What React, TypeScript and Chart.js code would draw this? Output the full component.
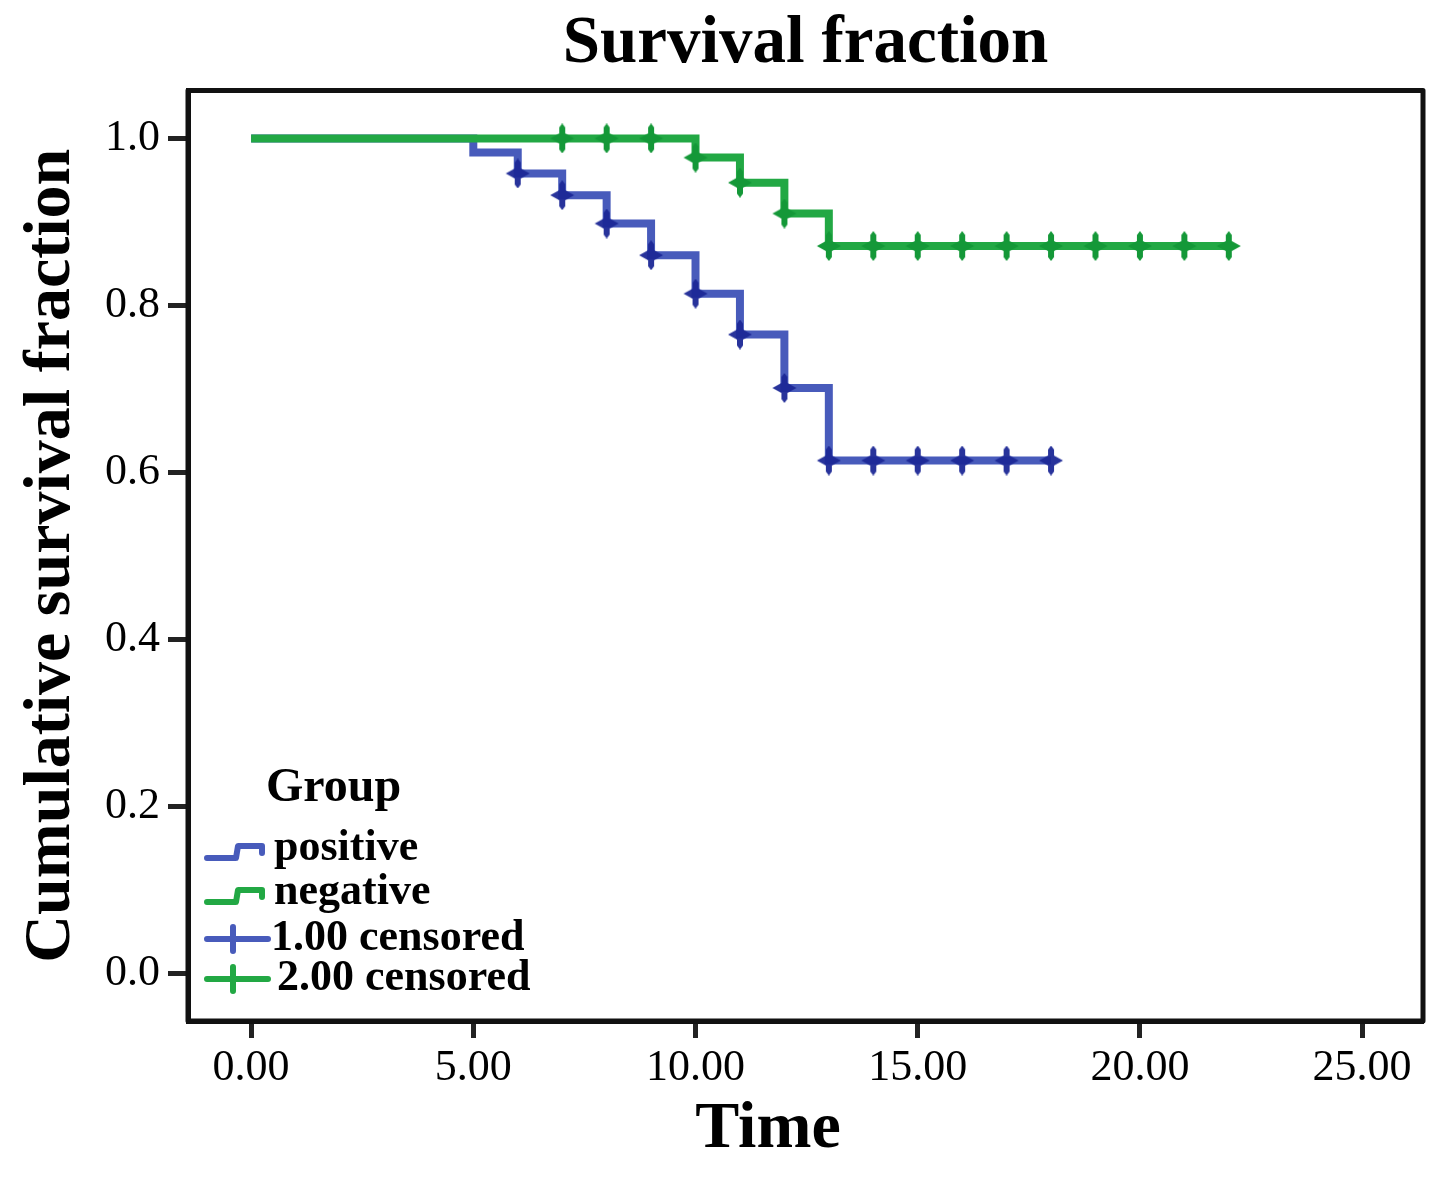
import { useEffect, useRef } from "react"
import { Chart, registerables } from "chart.js"

Chart.register(...registerables)

const positiveTimes = [0, 5, 6, 7, 8, 9, 10, 11, 12, 13, 18]
const positiveSurvival = [1.0, 0.983, 0.958, 0.932, 0.898, 0.86, 0.814, 0.765, 0.701, 0.614, 0.614]
const negativeTimes = [0, 10, 11, 12, 13, 22]
const negativeSurvival = [1.0, 0.977, 0.947, 0.91, 0.871, 0.871]

const positiveCensorTimes = [6, 7, 8, 9, 10, 11, 12, 13, 14, 15, 16, 17, 18]
const positiveCensorSurvival = [0.958, 0.932, 0.898, 0.86, 0.814, 0.765, 0.701, 0.614, 0.614, 0.614, 0.614, 0.614, 0.614]
const negativeCensorTimes = [7, 8, 9, 10, 11, 12, 13, 14, 15, 16, 17, 18, 19, 20, 21, 22]
const negativeCensorSurvival = [1.0, 1.0, 1.0, 0.977, 0.947, 0.91, 0.871, 0.871, 0.871, 0.871, 0.871, 0.871, 0.871, 0.871, 0.871, 0.871]

const legendTitle = "Group"
const legendLabels = ["positive", "negative", "1.00 censored", "2.00 censored"]

const BLUE = "rgba(40, 62, 175, 0.85)"
const BLUE_MARK = "rgba(28, 40, 150, 0.95)"
const GREEN = "rgb(34, 168, 68)"
const GREEN_MARK = "rgb(20, 152, 56)"
const SERIF = "'Liberation Serif', 'Times New Roman', serif"

const toPoints = (xs: number[], ys: number[]) => xs.map((x, i) => ({ x, y: ys[i] }))

// censor mark: vertical tick with a small diamond, like the SPSS plot
function makeMarker(color: string) {
  const c = document.createElement("canvas")
  c.width = 26
  c.height = 30
  const g = c.getContext("2d")!
  g.fillStyle = color
  g.beginPath()
  g.moveTo(13, 0)
  g.lineTo(16, 4)
  g.lineTo(16, 10)
  g.lineTo(25, 15)
  g.lineTo(16, 20)
  g.lineTo(16, 26)
  g.lineTo(13, 30)
  g.lineTo(10, 26)
  g.lineTo(10, 20)
  g.lineTo(1, 15)
  g.lineTo(10, 10)
  g.lineTo(10, 4)
  g.closePath()
  g.fill()
  return c
}

const framePlugin = {
  id: "frameAndLegend",
  afterDraw(chart: Chart) {
    const { ctx, chartArea } = chart
    ctx.save()
    ctx.strokeStyle = "#111"
    ctx.lineWidth = 5
    ctx.lineJoin = "round"
    ctx.strokeRect(chartArea.left, chartArea.top, chartArea.right - chartArea.left, chartArea.bottom - chartArea.top)

    // x axis title
    ctx.fillStyle = "#000"
    ctx.textBaseline = "middle"
    ctx.textAlign = "center"
    ctx.font = `bold 66px ${SERIF}`
    ctx.fillText("Time", 768, 1130)

    // legend
    ctx.textAlign = "left"
    ctx.font = `bold 48px ${SERIF}`
    ctx.fillText(legendTitle, 266, 789)

    ctx.font = `bold 44px ${SERIF}`
    const rows = [849, 893, 939, 979]
    const textX = [274, 274, 271, 277]
    const colors = [BLUE, GREEN, BLUE, GREEN]
    ctx.lineCap = "round"
    ctx.lineJoin = "round"
    legendLabels.forEach((label, i) => {
      const y = rows[i]
      ctx.strokeStyle = colors[i]
      ctx.lineWidth = 6
      ctx.beginPath()
      if (i < 2) {
        ctx.moveTo(207, y + 9)
        ctx.lineTo(236, y + 9)
        ctx.lineTo(238, y - 3)
        ctx.lineTo(262, y - 3)
        ctx.lineTo(262, y + 4)
      } else {
        ctx.moveTo(207, y)
        ctx.lineTo(268, y)
        ctx.moveTo(233, y - 12)
        ctx.lineTo(233, y + 12)
      }
      ctx.stroke()
      ctx.fillStyle = "#000"
      ctx.fillText(label, textX[i], y)
    })
    ctx.restore()
  },
}

export default function App() {
  const chartRef = useRef<HTMLCanvasElement>(null)
  const chartInstance = useRef<Chart | null>(null)

  useEffect(() => {
    if (!chartRef.current) return
    if (chartInstance.current) chartInstance.current.destroy()

    const ctx = chartRef.current.getContext("2d")
    if (!ctx) return

    const blueMark = makeMarker(BLUE_MARK)
    const greenMark = makeMarker(GREEN_MARK)

    chartInstance.current = new Chart(ctx, {
      type: "scatter",
      data: {
        datasets: [
          {
            label: "negative censored",
            data: toPoints(negativeCensorTimes, negativeCensorSurvival),
            pointStyle: greenMark,
            pointRadius: 12,
            borderColor: GREEN_MARK,
            backgroundColor: GREEN_MARK,
            order: 0,
          },
          {
            label: "negative",
            data: toPoints(negativeTimes, negativeSurvival),
            showLine: true,
            stepped: "before",
            borderColor: GREEN,
            borderWidth: 8,
            pointRadius: 0,
            order: 1,
          },
          {
            label: "positive censored",
            data: toPoints(positiveCensorTimes, positiveCensorSurvival),
            pointStyle: blueMark,
            pointRadius: 12,
            borderColor: BLUE_MARK,
            backgroundColor: BLUE_MARK,
            order: 2,
          },
          {
            label: "positive",
            data: toPoints(positiveTimes, positiveSurvival),
            showLine: true,
            stepped: "before",
            borderColor: BLUE,
            borderWidth: 8,
            pointRadius: 0,
            order: 3,
          },
        ],
      },
      options: {
        animation: false,
        responsive: true,
        maintainAspectRatio: false,
        layout: { padding: { top: 0, right: 18, bottom: 0, left: 0 } },
        plugins: {
          legend: { display: false },
          tooltip: { enabled: false },
          title: {
            display: true,
            text: "Survival fraction",
            fullSize: false,
            color: "#000",
            font: { family: SERIF, size: 67, weight: "bold", lineHeight: 1.2 },
            padding: { top: 4, bottom: 6 },
          },
        },
        scales: {
          x: {
            type: "linear",
            min: -1.42,
            max: 26.37,
            afterFit: (scale) => {
              scale.height = 167
            },
            border: { display: true, color: "#111", width: 5 },
            grid: { drawOnChartArea: false, drawTicks: true, tickLength: 17, tickWidth: 5, tickColor: "#222" },
            ticks: {
              stepSize: 5,
              includeBounds: false,
              color: "#000",
              padding: 4,
              maxRotation: 0,
              font: { family: SERIF, size: 44 },
              callback: (v) => Number(v).toFixed(2),
            },
          },
          y: {
            type: "linear",
            min: -0.0575,
            max: 1.0575,
            afterFit: (scale) => {
              scale.width = 188
            },
            border: { display: true, color: "#111", width: 5 },
            grid: { drawOnChartArea: false, drawTicks: true, tickLength: 20, tickWidth: 5, tickColor: "#222" },
            ticks: {
              stepSize: 0.2,
              includeBounds: false,
              color: "#000",
              padding: 8,
              font: { family: SERIF, size: 44 },
              callback: (v) => Number(v).toFixed(1),
            },
            title: {
              display: true,
              text: "Cumulative survival fraction",
              color: "#000",
              font: { family: SERIF, size: 66, weight: "bold", lineHeight: 1.2 },
              padding: { top: 12, bottom: 0 },
            },
          },
        },
      },
      plugins: [framePlugin],
    })

    return () => {
      if (chartInstance.current) {
        chartInstance.current.destroy()
        chartInstance.current = null
      }
    }
  }, [])

  return (
    <div style={{ position: "fixed", left: 0, top: 0, width: 1441, height: 1188, background: "#fff" }}>
      <canvas ref={chartRef} />
    </div>
  )
}
